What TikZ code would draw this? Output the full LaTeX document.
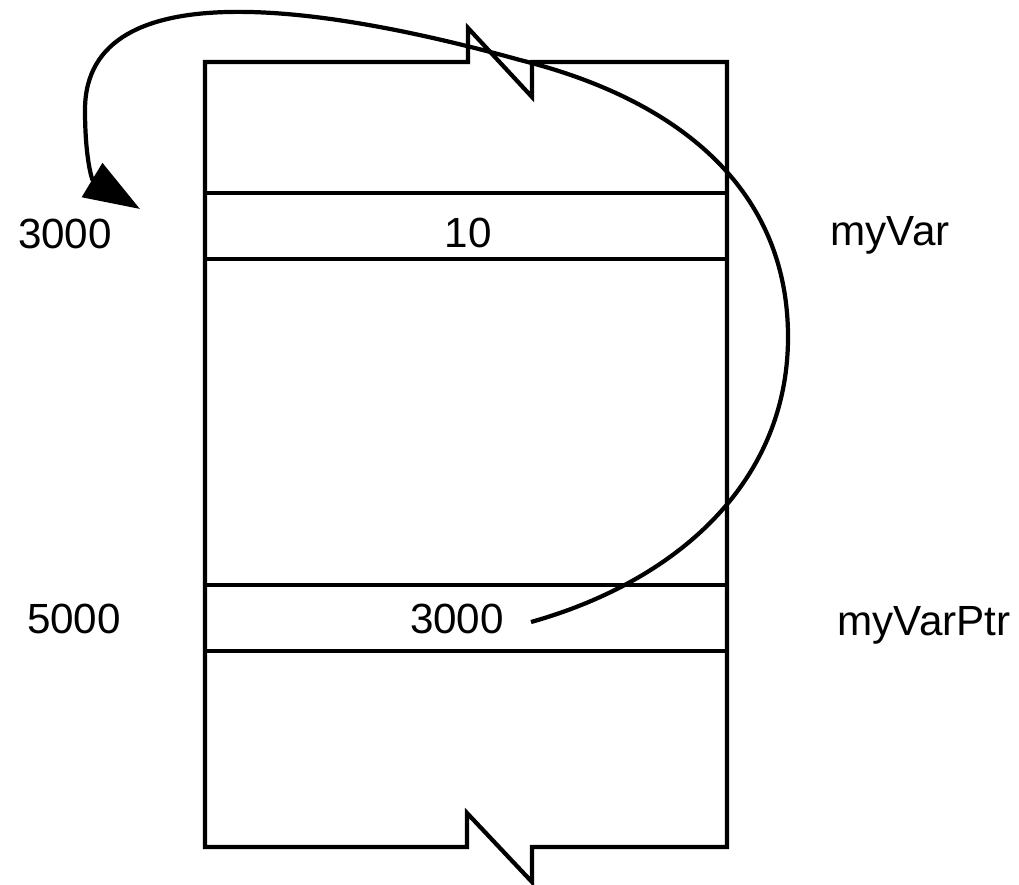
\documentclass[tikz,border=0pt]{standalone}
\usepackage{fontspec}
\setmainfont{Liberation Sans}
\usetikzlibrary{arrows.meta}
\begin{document}
\begin{tikzpicture}[x=0.01cm,y=-0.01cm,
  wall/.style={line width=1.2pt, line join=miter},
  lbl/.style={font=\fontsize{12}{14}\selectfont, inner sep=0pt, anchor=base},
  varlbl/.style={lbl, anchor=base west},
  link/.style={line width=1.2pt, -{Triangle[length=5.6mm,width=3.9mm]}}]
\useasboundingbox (0,0) rectangle (1019,884);

% memory column with break marks at top and bottom
\draw[wall] (205,62) -- (468,62) -- (468,28) -- (532,97) -- (532,62) -- (727,62)
  -- (727,847) -- (532,847) -- (532,882) -- (467,813) -- (467,847) -- (205,847) -- cycle;

% cell of myVar
\draw[wall] (205,193) -- (727,193);
\draw[wall] (205,259) -- (727,259);
% cell of myVarPtr
\draw[wall] (205,585) -- (727,585);
\draw[wall] (205,651) -- (727,651);

% addresses, contents and names
\node[lbl] (addrA) at (65,248) {3000};
\node[lbl] (valA) at (468,247) {10};
\node[varlbl] (nameA) at (830,245) {myVar};

\node[lbl] (addrB) at (74,633) {5000};
\node[lbl] (valB) at (457,633) {3000};
\node[varlbl] (nameB) at (837,635) {myVarPtr};

% pointer from the stored address back to 3000
\coordinate (src) at (531,622);
\coordinate (tgt) at (140,209);
\draw[link] (src) .. controls (680,580) and (788,480) .. (788,337)
  .. controls (788,190) and (680,100) .. (520,60)
  .. controls (340,10) and (85,-35) .. (85,110)
  .. controls (85,158) and (92,180) .. (tgt);
\end{tikzpicture}
\end{document}
